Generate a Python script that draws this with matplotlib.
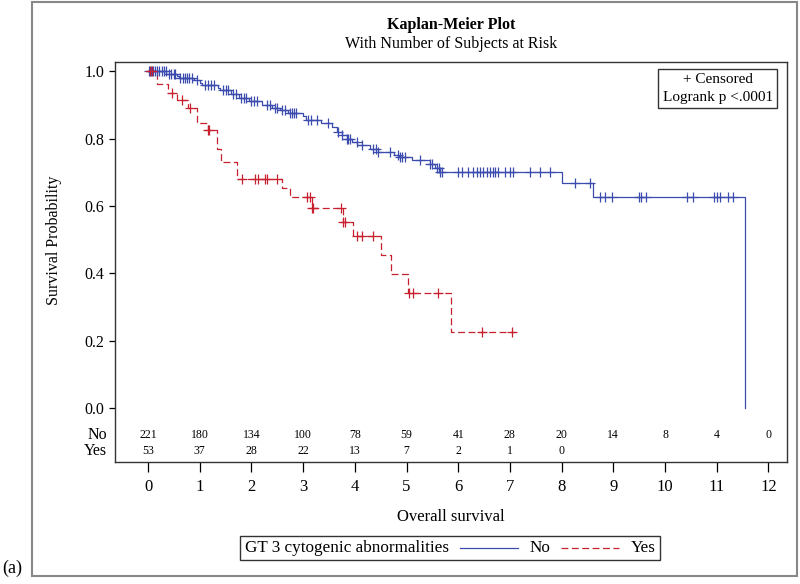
import matplotlib

matplotlib.use("Agg")
import matplotlib.pyplot as plt
import numpy as np
from matplotlib.lines import Line2D
from matplotlib.patches import Rectangle
from matplotlib.offsetbox import AnchoredOffsetbox, HPacker, TextArea, DrawingArea

plt.rcParams["font.family"] = ["Liberation Serif", "DejaVu Serif"]

# Kaplan-Meier steps for "No" group: event times and survival after each event
no_times = [0.0, 0.35, 0.55, 0.6, 0.88, 1.0, 1.05, 1.35, 1.4, 1.6, 1.75, 1.95, 2.2, 2.4,
            2.55, 2.7, 3.0, 3.05, 3.35, 3.55, 3.65, 3.75, 3.85, 3.95, 4.05, 4.3, 4.45,
            4.75, 4.85, 5.1, 5.45, 5.55, 5.65, 8.0, 8.6, 11.55]
no_surv = [1.0, 0.991, 0.986, 0.98, 0.973, 0.965, 0.958, 0.95, 0.944, 0.932, 0.92, 0.91,
           0.90, 0.89, 0.884, 0.876, 0.866, 0.855, 0.846, 0.835, 0.82, 0.81, 0.80, 0.79,
           0.78, 0.77, 0.76, 0.752, 0.744, 0.735, 0.725, 0.712, 0.702, 0.667, 0.627, 0.0]
no_censor = [0.02, 0.06, 0.1, 0.14, 0.18, 0.22, 0.27, 0.3, 0.34, 0.4, 0.45, 0.5, 0.53, 0.62,
             0.68, 0.72, 0.76, 0.8, 0.84, 0.95, 1.1, 1.15, 1.22, 1.28, 1.45, 1.5, 1.55, 1.65,
             1.7, 1.8, 1.85, 1.9, 2.0, 2.05, 2.1, 2.3, 2.35, 2.45, 2.5, 2.6, 2.65, 2.75, 2.78,
             2.82, 2.86, 3.1, 3.15, 3.27, 3.48, 3.67, 3.75, 3.85, 3.87, 3.9, 4.04, 4.14, 4.35,
             4.4, 4.45, 4.68, 4.84, 4.88, 4.92, 4.97, 5.26, 5.45, 5.5, 5.59, 5.62, 5.65, 5.69,
             6.0, 6.08, 6.19, 6.29, 6.36, 6.42, 6.48, 6.56, 6.62, 6.67, 6.71, 6.77, 6.91, 7.0,
             7.06, 7.39, 7.58, 7.78, 8.26, 8.55, 8.74, 8.84, 8.97, 9.5, 9.54, 9.63, 10.43,
             10.54, 10.95, 11.0, 11.06, 11.22, 11.32]

# "Yes" group
yes_times = [0.0, 0.17, 0.39, 0.56, 0.77, 0.95, 1.15, 1.33, 1.41, 1.72, 2.6, 2.75, 3.17,
             3.77, 3.97, 4.5, 4.7, 5.03, 5.86]
yes_surv = [1.0, 0.962, 0.936, 0.913, 0.89, 0.847, 0.825, 0.77, 0.73, 0.68, 0.652, 0.625,
            0.593, 0.551, 0.51, 0.453, 0.397, 0.341, 0.226]
yes_censor = [0.04, 0.08, 0.46, 0.65, 0.81, 1.15, 1.18, 1.82, 2.07, 2.13, 2.26, 2.3, 2.5,
              3.08, 3.13, 3.17, 3.2, 3.73, 3.77, 3.81, 4.04, 4.14, 4.35, 5.05, 5.13, 5.61,
              6.46, 7.04]
yes_last = 7.1

risk_ticks = list(range(13))
risk_no = [221, 180, 134, 100, 78, 59, 41, 28, 20, 14, 8, 4, 0]
risk_yes = [53, 37, 28, 22, 13, 7, 2, 1, 0]

color_no = "#3B4BAE"
color_yes = "#C8202F"


def surv_at(t, times, surv):
    idx = np.searchsorted(times, t, side="right") - 1
    return np.asarray(surv)[idx]


fig = plt.figure(figsize=(8, 5.84), dpi=100)
ax = fig.add_axes([0.14375, 0.2089, 0.84, 0.6849])

# curves
ax.step(no_times, no_surv, where="post", color=color_no, lw=0.9)
ax.step(yes_times + [yes_last], yes_surv + [yes_surv[-1]], where="post",
        color=color_yes, lw=0.9, dashes=(5.5, 2.8))

# censored marks
ax.plot(no_censor, surv_at(no_censor, no_times, no_surv), ls="none", marker="+",
        ms=6.5, mew=0.9, color=color_no)
ax.plot(yes_censor, surv_at(yes_censor, yes_times, yes_surv), ls="none", marker="+",
        ms=6.5, mew=0.9, color=color_yes)

ax.set_xlim(-0.64, 12.36)
ax.set_ylim(-0.16, 1.027)
ax.set_xticks(risk_ticks)
ax.set_yticks([0.0, 0.2, 0.4, 0.6, 0.8, 1.0])
ax.set_yticklabels([f"{v:.1f}" for v in ax.get_yticks()])
ax.tick_params(axis="x", direction="out", length=7, width=0.9, pad=5, labelsize=12)
ax.tick_params(axis="y", direction="out", length=4.5, width=0.9, pad=3, labelsize=11.5)
for sp in ax.spines.values():
    sp.set_color("#333333")
    sp.set_linewidth(1.0)

# number at risk
trans = ax.get_yaxis_transform()
for t, n in zip(risk_ticks, risk_no):
    ax.text(t, -0.08, str(n), ha="center", va="center", fontsize=8.5)
for t, n in zip(risk_ticks, risk_yes):
    ax.text(t, -0.127, str(n), ha="center", va="center", fontsize=8.5)
ax.text(-0.012, -0.08, "No", transform=trans, ha="right", va="center", fontsize=11.5)
ax.text(-0.012, -0.127, "Yes", transform=trans, ha="right", va="center", fontsize=11.5)

ax.set_xlabel("Overall survival", fontsize=12)
ax.xaxis.set_label_coords(0.5, -0.118)
ax.set_ylabel("Survival Probability", fontsize=11.5)
ax.yaxis.set_label_coords(-0.079, 0.555)

ax.text(0.979, 0.972, "+ Censored\nLogrank p <.0001", transform=ax.transAxes,
        ha="right", va="top", fontsize=11, multialignment="center", linespacing=1.45,
        bbox=dict(boxstyle="square,pad=0.3", facecolor="white", edgecolor="#333333", lw=1))

fig.text(0.564, 1 - 25 / 584, "Kaplan-Meier Plot", ha="center", va="center",
         fontsize=11.5, fontweight="bold")
fig.text(0.564, 1 - 44 / 584, "With Number of Subjects at Risk", ha="center",
         va="center", fontsize=11.5)

# legend strip at the bottom
def line_sample(color, dashes=None):
    da = DrawingArea(42, 8, 0, 0)
    ln = Line2D([0, 42], [4, 4], color=color, lw=0.9)
    if dashes:
        ln.set_dashes(dashes)
    da.add_artist(ln)
    return da


items = [
    TextArea("GT 3 cytogenic abnormalities", textprops=dict(fontsize=12.3)),
    line_sample(color_no),
    TextArea("No", textprops=dict(fontsize=12.3)),
    line_sample(color_yes, (5.5, 2.8)),
    TextArea("Yes", textprops=dict(fontsize=12.3)),
]
box = HPacker(children=items, align="center", pad=0, sep=8)
anchored = AnchoredOffsetbox(loc="center", child=box, pad=0.3, borderpad=0,
                             frameon=True, bbox_to_anchor=(0.5625, 1 - 548 / 584),
                             bbox_transform=fig.transFigure)
anchored.patch.set_edgecolor("#333333")
anchored.patch.set_linewidth(1.0)
anchored.patch.set_boxstyle("square,pad=0")
fig.add_artist(anchored)

# outer frame and panel tag
fig.add_artist(Rectangle((0.04, 0.0137), 0.956, 0.983, transform=fig.transFigure,
                         fill=False, edgecolor="#888888", lw=1.5))
fig.text(0.015, 1 - 568 / 584, "(a)", ha="center", va="center", fontsize=13)

fig.savefig("out.png", dpi=100)
